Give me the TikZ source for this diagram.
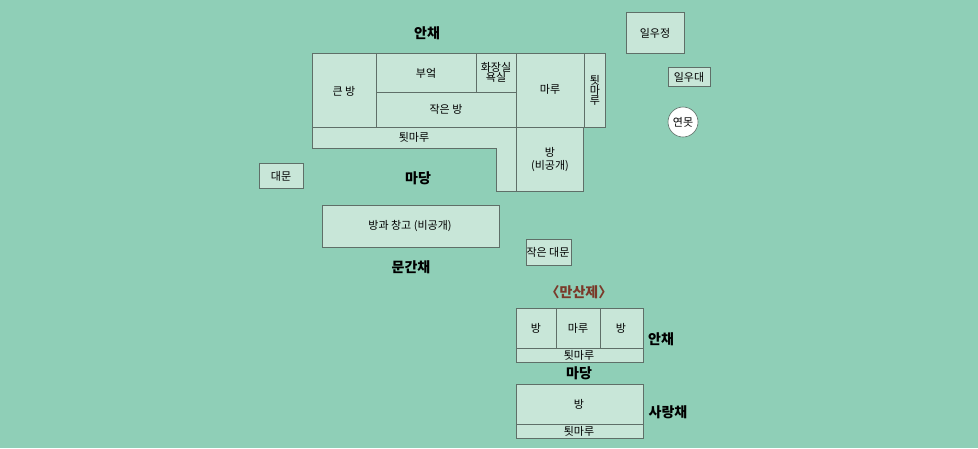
\documentclass[tikz,border=0pt]{standalone}
\usepackage{fontspec}
\setmainfont{Noto Sans CJK KR}
\definecolor{yard}{HTML}{8FCFB7}
\definecolor{room}{HTML}{C8E6D8}
\definecolor{wall}{HTML}{5F6F68}
\definecolor{title}{HTML}{7A3A2A}
\tikzset{
  roombox/.style={fill=room,draw=wall,line width=0.6pt},
  lbl/.style={font=\fontsize{11}{13}\selectfont,align=center,inner sep=0pt},
  bld/.style={font=\fontsize{14}{16}\selectfont\bfseries,inner sep=0pt}
}
\begin{document}
\begin{tikzpicture}[x=1pt,y=-1pt]
  \fill[yard] (0,0) rectangle (978,448);
  \useasboundingbox (0,0) rectangle (978,448);
  % main house
  \draw[roombox] (312,53) rectangle (376,127);
  \draw[roombox] (376,53) rectangle (476,92);
  \draw[roombox] (476,53) rectangle (516,92);
  \draw[roombox] (376,92) rectangle (516,127);
  \draw[roombox] (516,53) rectangle (584,127);
  \draw[roombox] (584,53) rectangle (605,127);
  \draw[roombox] (312,127) -- (516,127) -- (516,191) -- (496,191) -- (496,148) -- (312,148) -- cycle;
  \draw[roombox] (516,127) rectangle (583,191);
  \node[lbl] at (344,91) {큰 방};
  \node[lbl] at (426,73) {부엌};
  \node[lbl] at (496,72) {화장실\\[-3pt]욕실};
  \node[lbl] at (446,109) {작은 방};
  \node[lbl] at (550,89) {마루};
  \node[lbl] at (595,90) {툇\\[-3pt]마\\[-3pt]루};
  \node[lbl] at (414,137) {툇마루};
  \node[lbl] at (550,160) {방\\(비공개)};
  % pavilion, pond
  \draw[roombox] (626,12) rectangle (684,53);
  \node[lbl] at (655,33) {일우정};
  \draw[roombox] (668,67) rectangle (710,86);
  \node[lbl] at (689,77) {일우대};
  \draw[fill=white,draw=wall,line width=0.6pt] (683,122) circle (15);
  \node[lbl] at (683,122) {연못};
  % gates and gatehouse
  \draw[roombox] (259,163) rectangle (303,188);
  \node[lbl] at (281,176) {대문};
  \draw[roombox] (322,205) rectangle (499,247);
  \node[lbl] at (410,226) {방과 창고 (비공개)};
  \draw[roombox] (526,239) rectangle (571,265);
  \node[lbl] at (548,252) {작은 대문};
  \node[bld] at (427,33) {안채};
  \node[bld] at (418,178) {마당};
  \node[bld] at (411,267) {문간채};
  % mansanje
  \node[font=\fontsize{14}{16}\selectfont\bfseries,text=title,inner sep=0pt] at (579,292) {〈만산제〉};
  \draw[roombox] (516,308) rectangle (556,348);
  \draw[roombox] (556,308) rectangle (600,348);
  \draw[roombox] (600,308) rectangle (643,348);
  \draw[roombox] (516,348) rectangle (643,362);
  \node[lbl] at (536,328) {방};
  \node[lbl] at (578,328) {마루};
  \node[lbl] at (621,328) {방};
  \node[lbl] at (579,355) {툇마루};
  \draw[roombox] (516,384) rectangle (643,424);
  \draw[roombox] (516,424) rectangle (643,438);
  \node[lbl] at (579,404) {방};
  \node[lbl] at (579,431) {툇마루};
  \node[bld] at (661,339) {안채};
  \node[bld] at (579,373) {마당};
  \node[bld] at (668,412) {사랑채};
\end{tikzpicture}
\end{document}
